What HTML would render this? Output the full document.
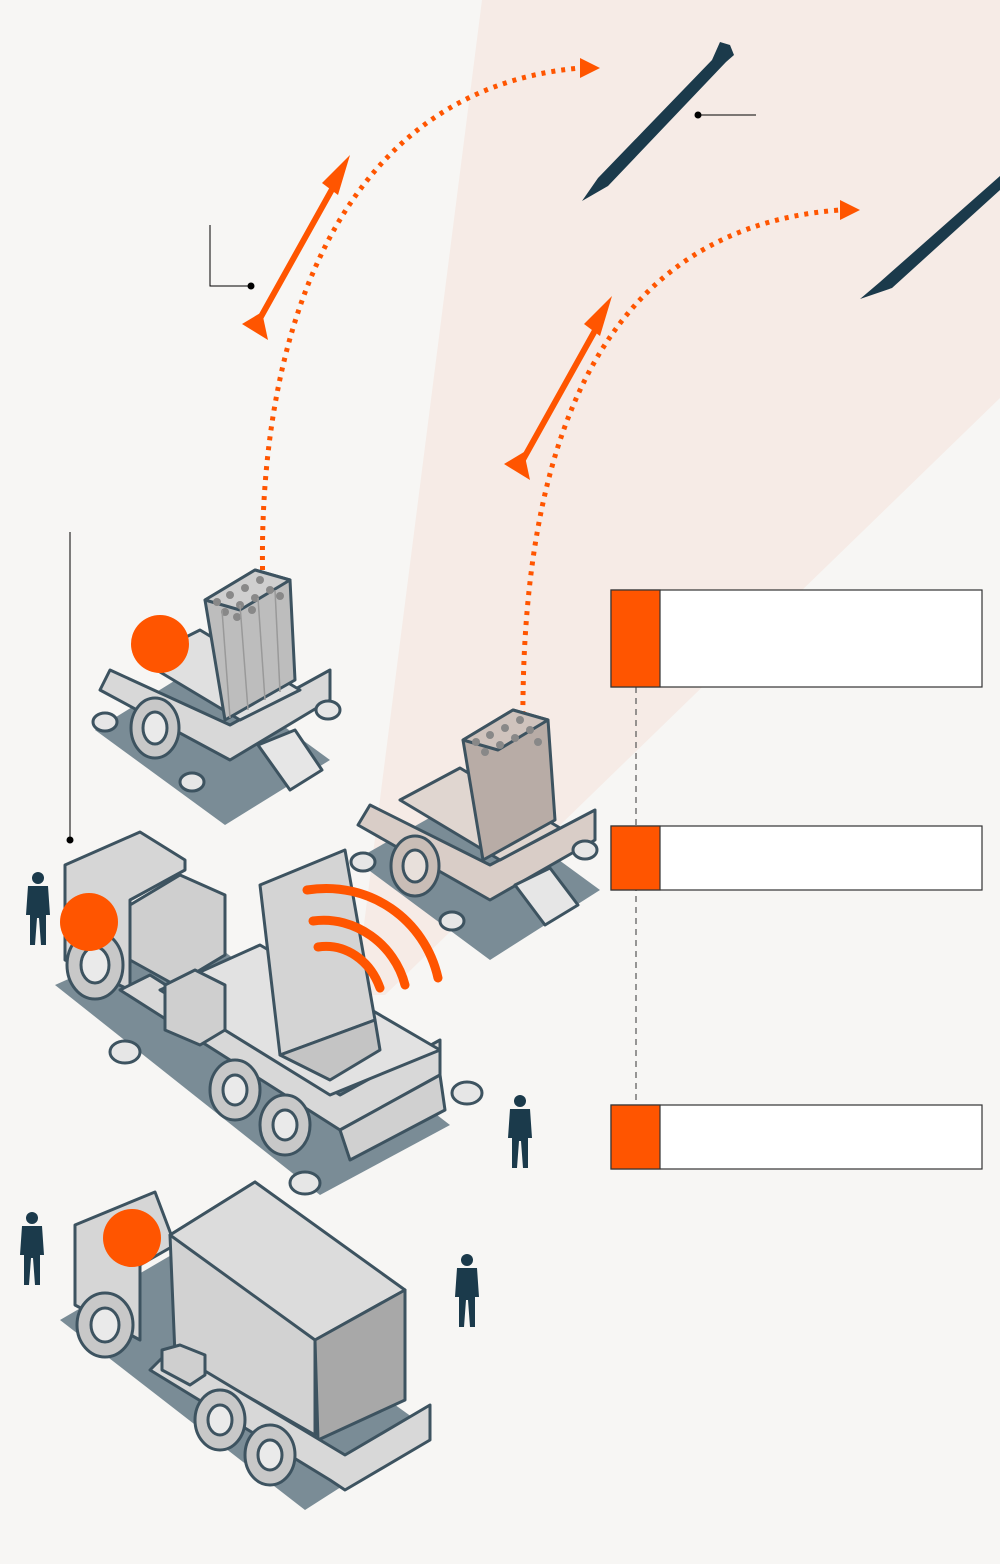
<!DOCTYPE html>
<html><head><meta charset="utf-8"><style>
html,body{margin:0;padding:0;background:#f7f6f4;}
svg{display:block;}
</style></head><body>
<svg width="1000" height="1564" viewBox="0 0 1000 1564" xmlns="http://www.w3.org/2000/svg">
<rect width="1000" height="1564" fill="#f7f6f4"/>
<!-- radar wedge -->
<polygon points="482,0 1000,0 1000,398 385,995 355,995" fill="#f6ebe6"/>

<!-- dotted trajectories -->
<path d="M263,590 C255,350 330,90 580,68" fill="none" stroke="#ff5500" stroke-width="5" stroke-dasharray="4,6"/>
<polygon points="580,58 600,68 580,78" fill="#ff5500"/>
<path d="M523,735 C520,500 570,230 840,210" fill="none" stroke="#ff5500" stroke-width="5" stroke-dasharray="4,6"/>
<polygon points="840,200 860,210 840,220" fill="#ff5500"/>

<!-- interceptor missiles -->
<g stroke="#ff5500" stroke-width="6" stroke-linecap="round">
<line x1="258" y1="322" x2="340" y2="175"/>
<line x1="520" y1="465" x2="602" y2="318"/>
</g>
<polygon points="350,155 338,195 322,183" fill="#ff5500"/>
<polygon points="242,324 268,340 262,312" fill="#ff5500"/>
<polygon points="612,296 600,336 584,324" fill="#ff5500"/>
<polygon points="504,464 530,480 524,452" fill="#ff5500"/>

<!-- enemy missiles -->
<path d="M582,201 L598,178 L712,60 L720,42 L730,45 L734,55 L726,62 L608,186 Z" fill="#1b3a4b"/>
<path d="M860,299 L880,282 L1000,176 L1000,190 L892,288 Z" fill="#1b3a4b"/>

<!-- leader lines -->
<g stroke="#000" stroke-width="1" fill="none">
<polyline points="210,225 210,286 251,286"/>
<line x1="698" y1="115" x2="756" y2="115"/>
<line x1="70" y1="532" x2="70" y2="840"/>
</g>
<circle cx="251" cy="286" r="3.5"/>
<circle cx="698" cy="115" r="3.5"/>
<circle cx="70" cy="840" r="3.5"/>

<!-- Launcher 1 -->
<g stroke="#3d5360" stroke-width="3" stroke-linejoin="round">
<polygon points="95,730 225,825 330,760 200,665" fill="#7a8c96" stroke="none"/>
<polygon points="100,690 230,760 330,700 330,670 230,725 110,670" fill="#d8d8d8"/>
<polygon points="140,660 240,720 300,690 200,630" fill="#e0e0e0"/>
<ellipse cx="155" cy="728" rx="24" ry="30" fill="#c8c8c8"/>
<ellipse cx="155" cy="728" rx="12" ry="16" fill="#eaeaea"/>
<polygon points="205,600 225,720 295,680 290,580 255,570" fill="#bdbdbd"/>
<polygon points="205,600 255,570 290,580 240,610" fill="#cfcfcf"/>
<polygon points="258,745 290,790 322,770 295,730" fill="#e6e6e6"/>
<ellipse cx="105" cy="722" rx="12" ry="9" fill="#e6e6e6"/>
<ellipse cx="192" cy="782" rx="12" ry="9" fill="#e6e6e6"/>
<ellipse cx="328" cy="710" rx="12" ry="9" fill="#e6e6e6"/>
</g>
<g fill="#888"><circle cx="217" cy="602" r="4"/><circle cx="230" cy="595" r="4"/><circle cx="245" cy="588" r="4"/><circle cx="260" cy="580" r="4"/><circle cx="225" cy="612" r="4"/><circle cx="240" cy="605" r="4"/><circle cx="255" cy="598" r="4"/><circle cx="270" cy="590" r="4"/><circle cx="237" cy="617" r="4"/><circle cx="252" cy="610" r="4"/><circle cx="280" cy="596" r="4"/></g>
<g stroke="#999" stroke-width="1.5"><line x1="222" y1="610" x2="230" y2="718"/><line x1="240" y1="605" x2="248" y2="710"/><line x1="258" y1="598" x2="265" y2="700"/><line x1="275" y1="590" x2="280" y2="692"/></g>
<circle cx="160" cy="644" r="29" fill="#ff5500"/>

<!-- Launcher 2 (tinted) -->
<g stroke="#3d5360" stroke-width="3" stroke-linejoin="round">
<polygon points="355,860 490,960 600,890 470,795" fill="#7a8c96" stroke="none"/>
<polygon points="358,825 490,900 595,840 595,810 490,865 370,805" fill="#d9cdc7"/>
<polygon points="400,800 500,860 560,828 460,768" fill="#e0d6d0"/>
<ellipse cx="415" cy="866" rx="24" ry="30" fill="#c9bdb6"/>
<ellipse cx="415" cy="866" rx="12" ry="16" fill="#e8e0db"/>
<polygon points="463,740 483,860 555,820 548,720 513,710" fill="#b8aca6"/>
<polygon points="463,740 513,710 548,720 498,750" fill="#cfc3bd"/>
<polygon points="515,885 545,925 578,905 550,868" fill="#e6e6e6"/>
<ellipse cx="363" cy="862" rx="12" ry="9" fill="#e6e6e6"/>
<ellipse cx="452" cy="921" rx="12" ry="9" fill="#e6e6e6"/>
<ellipse cx="585" cy="850" rx="12" ry="9" fill="#e6e6e6"/>
</g>
<g fill="#888"><circle cx="476" cy="742" r="4"/><circle cx="490" cy="735" r="4"/><circle cx="505" cy="728" r="4"/><circle cx="520" cy="720" r="4"/><circle cx="485" cy="752" r="4"/><circle cx="500" cy="745" r="4"/><circle cx="515" cy="738" r="4"/><circle cx="530" cy="730" r="4"/><circle cx="538" cy="742" r="4"/></g>

<!-- Radar truck -->
<g stroke="#3d5360" stroke-width="3" stroke-linejoin="round">
<polygon points="55,985 320,1195 450,1125 190,925" fill="#7a8c96" stroke="none"/>
<polygon points="65,865 65,960 130,990 130,900 185,870 185,860 140,832" fill="#d6d6d6"/>
<ellipse cx="95" cy="965" rx="28" ry="34" fill="#c8c8c8"/>
<ellipse cx="95" cy="965" rx="14" ry="18" fill="#eaeaea"/>
<polygon points="130,905 130,960 175,985 225,955 225,895 180,875" fill="#cfcfcf"/>
<polygon points="120,990 340,1130 440,1075 440,1040 340,1095 150,975" fill="#d8d8d8"/>
<polygon points="160,990 330,1095 440,1050 260,945" fill="#e2e2e2"/>
<polygon points="260,885 280,1055 375,1020 345,850" fill="#d4d4d4"/>
<polygon points="280,1055 330,1080 380,1050 375,1020" fill="#c4c4c4"/>
<polygon points="165,985 165,1030 200,1045 225,1030 225,985 195,970" fill="#cfcfcf"/>
<ellipse cx="235" cy="1090" rx="25" ry="30" fill="#c8c8c8"/>
<ellipse cx="235" cy="1090" rx="12" ry="15" fill="#eaeaea"/>
<ellipse cx="285" cy="1125" rx="25" ry="30" fill="#c8c8c8"/>
<ellipse cx="285" cy="1125" rx="12" ry="15" fill="#eaeaea"/>
<polygon points="340,1130 350,1160 445,1110 440,1075" fill="#d0d0d0"/>
<ellipse cx="125" cy="1052" rx="15" ry="11" fill="#e6e6e6"/>
<ellipse cx="305" cy="1183" rx="15" ry="11" fill="#e6e6e6"/>
<ellipse cx="467" cy="1093" rx="15" ry="11" fill="#e6e6e6"/>
</g>
<circle cx="89" cy="922" r="29" fill="#ff5500"/>
<g fill="none" stroke="#ff5500" stroke-width="9" stroke-linecap="round">
<path d="M307,890 C370,880 425,920 438,978"/>
<path d="M313,921 C355,915 395,945 405,985"/>
<path d="M318,947 C345,943 370,960 380,988"/>
</g>

<!-- Command truck -->
<g stroke="#3d5360" stroke-width="3" stroke-linejoin="round">
<polygon points="60,1320 305,1510 430,1430 180,1250" fill="#7a8c96" stroke="none"/>
<polygon points="75,1225 75,1305 140,1340 140,1265 175,1245 155,1192" fill="#d6d6d6"/>
<ellipse cx="105" cy="1325" rx="28" ry="32" fill="#c8c8c8"/>
<ellipse cx="105" cy="1325" rx="14" ry="17" fill="#eaeaea"/>
<polygon points="170,1235 175,1355 315,1435 315,1285 255,1182" fill="#d2d2d2"/>
<polygon points="170,1235 255,1182 405,1290 315,1340" fill="#dcdcdc"/>
<polygon points="315,1340 405,1290 405,1400 318,1440" fill="#a8a8a8"/>
<polygon points="150,1370 330,1480 345,1490 430,1440 430,1405 345,1455 170,1350" fill="#d8d8d8"/>
<polygon points="162,1350 162,1370 190,1385 205,1375 205,1355 180,1345" fill="#cfcfcf"/>
<ellipse cx="220" cy="1420" rx="25" ry="30" fill="#c8c8c8"/>
<ellipse cx="220" cy="1420" rx="12" ry="15" fill="#eaeaea"/>
<ellipse cx="270" cy="1455" rx="25" ry="30" fill="#c8c8c8"/>
<ellipse cx="270" cy="1455" rx="12" ry="15" fill="#eaeaea"/>
</g>
<circle cx="132" cy="1238" r="29" fill="#ff5500"/>

<!-- soldiers -->
<g fill="#1b3a4b">
<g transform="translate(38,910)"><circle cx="0" cy="-32" r="6"/><path d="M-10,-24 L10,-24 L12,5 L8,5 L8,35 L3,35 L1,8 L-1,8 L-3,35 L-8,35 L-8,5 L-12,5 Z"/></g>
<g transform="translate(520,1133)"><circle cx="0" cy="-32" r="6"/><path d="M-10,-24 L10,-24 L12,5 L8,5 L8,35 L3,35 L1,8 L-1,8 L-3,35 L-8,35 L-8,5 L-12,5 Z"/></g>
<g transform="translate(32,1250)"><circle cx="0" cy="-32" r="6"/><path d="M-10,-24 L10,-24 L12,5 L8,5 L8,35 L3,35 L1,8 L-1,8 L-3,35 L-8,35 L-8,5 L-12,5 Z"/></g>
<g transform="translate(467,1292)"><circle cx="0" cy="-32" r="6"/><path d="M-10,-24 L10,-24 L12,5 L8,5 L8,35 L3,35 L1,8 L-1,8 L-3,35 L-8,35 L-8,5 L-12,5 Z"/></g>
</g>

<!-- legend boxes -->
<line x1="636" y1="687" x2="636" y2="1105" stroke="#555" stroke-width="1.2" stroke-dasharray="6,5"/>
<g stroke="#333" stroke-width="1.2">
<rect x="611" y="590" width="371" height="97" fill="#fff"/>
<rect x="611" y="590" width="49" height="97" fill="#ff5500"/>
<rect x="611" y="826" width="371" height="64" fill="#fff"/>
<rect x="611" y="826" width="49" height="64" fill="#ff5500"/>
<rect x="611" y="1105" width="371" height="64" fill="#fff"/>
<rect x="611" y="1105" width="49" height="64" fill="#ff5500"/>
</g>
</svg>
</body></html>
